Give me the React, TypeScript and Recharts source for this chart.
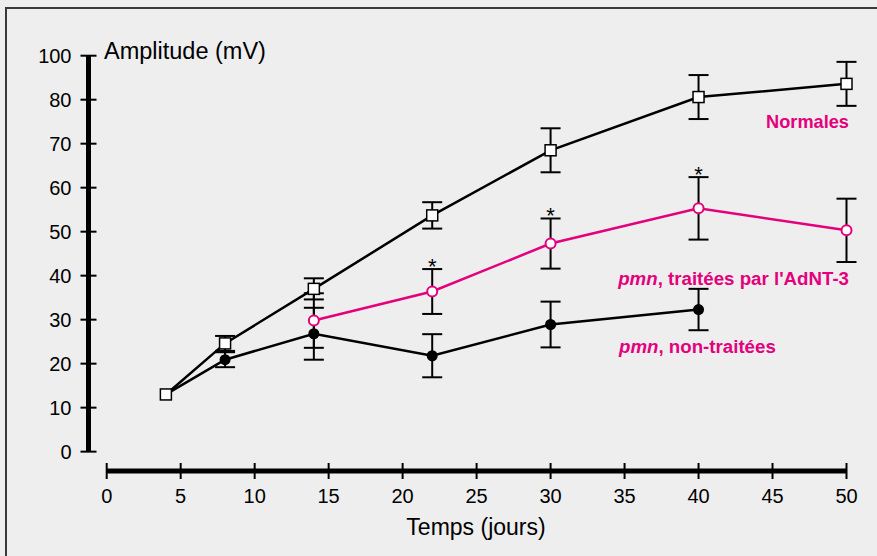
import {
  ComposedChart,
  Line,
  Scatter,
  XAxis,
  YAxis,
  ErrorBar,
  ReferenceLine,
} from "recharts";

// Normales (carrés blancs)
const X_NORMALES = [4, 8, 14, 22, 30, 40, 50];
const Y_NORMALES = [13, 24.6, 37, 53.7, 68.5, 80.6, 83.6];
const ERR_NORMALES = [0, 1.7, 2.4, 3, 5, 5, 5];

// pmn, non-traitées (ronds noirs)
const X_NON = [4, 8, 14, 22, 30, 40];
const Y_NON = [13, 20.9, 26.8, 21.8, 28.9, 32.3];
const ERR_NON = [0, 1.7, 5.9, 4.9, 5.2, 4.7];

// pmn, traitées par l'AdNT-3 (ronds roses)
const X_TRAITEES = [14, 22, 30, 40, 50];
const Y_TRAITEES = [29.8, 36.4, 47.3, 55.3, 50.3];
const ERR_TRAITEES = [6.2, 5.1, 5.7, 7.1, 7.2];

// points significatifs (*)
const STAR_X = [22, 30, 40];

const X_TICKS = [0, 5, 10, 15, 20, 25, 30, 35, 40, 45, 50];
// l'axe est coupé entre 80 et 100 : le dernier trait porte "100"
const Y_TICKS = [0, 10, 20, 30, 40, 50, 60, 70, 80, 90];
const Y_TICK_LABELS = ["0", "10", "20", "30", "40", "50", "60", "70", "80", "100"];

const PINK = "#e4007c";
const FONT = '"Liberation Sans", Arial, Helvetica, sans-serif';

const X_MIN = -1.23;
const Y_MIN = -4.4;
const AXIS_X = 88.5;
const AXIS_Y = 471;

function toRows(xs: number[], ys: number[], errs: number[]) {
  return xs.map((x, i) => ({ x, y: ys[i], err: errs[i] }));
}

const normales = toRows(X_NORMALES, Y_NORMALES, ERR_NORMALES);
const nonTraitees = toRows(X_NON, Y_NON, ERR_NON);
const traitees = toRows(X_TRAITEES, Y_TRAITEES, ERR_TRAITEES);
const stars = STAR_X.map((x) => {
  const i = X_TRAITEES.indexOf(x);
  return { x, y: Y_TRAITEES[i] + ERR_TRAITEES[i] };
});

const SquareDot = (p: any) => (
  <rect
    key={`sq-${p.index}`}
    x={p.cx - 5.5}
    y={p.cy - 5.5}
    width={11}
    height={11}
    fill="#fff"
    stroke="#000"
    strokeWidth={1.5}
  />
);

const BlackDot = (p: any) => (
  <circle key={`bd-${p.index}`} cx={p.cx} cy={p.cy} r={5.5} fill="#000" />
);

const PinkDot = (p: any) => (
  <circle
    key={`pd-${p.index}`}
    cx={p.cx}
    cy={p.cy}
    r={5}
    fill="#fff"
    stroke={PINK}
    strokeWidth={2}
  />
);

const Star = (p: any) => (
  <text
    x={p.cx}
    y={p.cy + 5}
    textAnchor="middle"
    fontSize={22}
    fontFamily={FONT}
    fill="#000"
  >
    *
  </text>
);

const XTick = (p: any) => (
  <g>
    <line x1={p.x} x2={p.x} y1={AXIS_Y - 8} y2={AXIS_Y + 8} stroke="#000" strokeWidth={2} />
    <text
      x={p.x}
      y={AXIS_Y + 32}
      textAnchor="middle"
      fontSize={20}
      fontFamily={FONT}
      fill="#000"
    >
      {p.payload.value}
    </text>
  </g>
);

const YTick = (p: any) => {
  const i = Y_TICKS.indexOf(p.payload.value);
  return (
    <g>
      <line x1={AXIS_X - 8} x2={AXIS_X + 8} y1={p.y} y2={p.y} stroke="#000" strokeWidth={2} />
      <text
        x={AXIS_X - 17}
        y={p.y + 7}
        textAnchor="end"
        fontSize={20}
        fontFamily={FONT}
        fill="#000"
      >
        {Y_TICK_LABELS[i]}
      </text>
    </g>
  );
};

export default function App() {
  return (
    <div
      style={{
        position: "absolute",
        left: 0,
        top: 0,
        width: 877,
        height: 556,
        background: "#eeeeee",
        overflow: "hidden",
      }}
    >
      <div
        style={{
          position: "absolute",
          left: 5,
          top: 7,
          width: 900,
          height: 600,
          borderLeft: "2px solid #3a3a3a",
          borderTop: "2px solid #3a3a3a",
        }}
      />
      <div style={{ position: "absolute", left: 0, top: 0 }}>
        <ComposedChart
          width={877}
          height={556}
          margin={{ top: 55.7, right: 30.5, bottom: 55, left: 28.5 }}
        >
          <XAxis
            dataKey="x"
            type="number"
            domain={[X_MIN, 50]}
            ticks={X_TICKS}
            axisLine={false}
            tickLine={false}
            tickSize={0}
            tickMargin={0}
            height={30}
            tick={<XTick />}
            interval={0}
          />
          <YAxis
            type="number"
            domain={[Y_MIN, 90]}
            ticks={Y_TICKS}
            axisLine={false}
            tickLine={false}
            tickSize={0}
            tickMargin={0}
            width={60}
            tick={<YTick />}
            interval={0}
          />
          <ReferenceLine
            segment={[
              { x: 0, y: Y_MIN },
              { x: 50, y: Y_MIN },
            ]}
            stroke="#000"
            strokeWidth={5}
            ifOverflow="visible"
          />
          <ReferenceLine
            segment={[
              { x: X_MIN, y: 0 },
              { x: X_MIN, y: 90 },
            ]}
            stroke="#000"
            strokeWidth={5}
            ifOverflow="visible"
          />
          <Line
            data={nonTraitees}
            dataKey="y"
            stroke="#000"
            strokeWidth={2.5}
            dot={BlackDot}
            activeDot={false}
            isAnimationActive={false}
          >
            <ErrorBar dataKey="err" direction="y" width={10} stroke="#000" strokeWidth={2} />
          </Line>
          <Line
            data={traitees}
            dataKey="y"
            stroke={PINK}
            strokeWidth={2.5}
            dot={PinkDot}
            activeDot={false}
            isAnimationActive={false}
          >
            <ErrorBar dataKey="err" direction="y" width={10} stroke="#000" strokeWidth={2} />
          </Line>
          <Line
            data={normales}
            dataKey="y"
            stroke="#000"
            strokeWidth={2.5}
            dot={SquareDot}
            activeDot={false}
            isAnimationActive={false}
          >
            <ErrorBar dataKey="err" direction="y" width={10} stroke="#000" strokeWidth={2} />
          </Line>
          <Scatter data={stars} dataKey="y" shape={Star} isAnimationActive={false} />
        </ComposedChart>
      </div>
      <svg
        width={877}
        height={556}
        style={{ position: "absolute", left: 0, top: 0, pointerEvents: "none" }}
        fontFamily={FONT}
      >
        <text x={104} y={59} fontSize={23.5} fill="#000">
          Amplitude (mV)
        </text>
        <text x={476} y={535} fontSize={23} textAnchor="middle" fill="#000">
          Temps (jours)
        </text>
        <text x={849} y={128} fontSize={18.2} fontWeight="bold" textAnchor="end" fill={PINK}>
          Normales
        </text>
        <text x={849} y={285} fontSize={18.7} fontWeight="bold" textAnchor="end" fill={PINK}>
          <tspan fontStyle="italic">pmn</tspan>, traitées par l'AdNT-3
        </text>
        <text x={619} y={353} fontSize={18.7} fontWeight="bold" fill={PINK}>
          <tspan fontStyle="italic">pmn</tspan>, non-traitées
        </text>
      </svg>
    </div>
  );
}
